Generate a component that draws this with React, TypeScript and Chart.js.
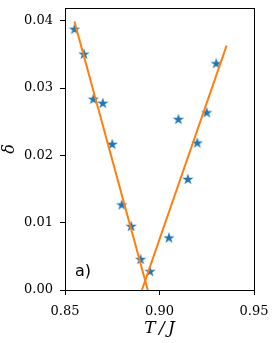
import React, { useEffect, useRef } from "react";
import { Chart, registerables } from "chart.js";

Chart.register(...registerables);

const temperatures = [0.855, 0.86, 0.865, 0.87, 0.875, 0.88, 0.885, 0.89, 0.895, 0.905, 0.91, 0.915, 0.92, 0.925, 0.93];
const deltas = [0.0388, 0.0351, 0.0284, 0.0278, 0.0217, 0.0127, 0.0095, 0.0046, 0.0028, 0.0078, 0.0254, 0.0165, 0.0219, 0.0264, 0.0337];

const leftFitT = [0.855, 0.8938];
const leftFitD = [0.0399, 0.0];
const rightFitT = [0.8907, 0.9355];
const rightFitD = [0.0, 0.0363];

const xTicks = [0.85, 0.9, 0.95];
const yTicks = [0.0, 0.01, 0.02, 0.03, 0.04];

const panelLabel = "a)";
const xTitle = "T\u2009/\u2009J";
const yTitle = "δ";

function makeStar(size: number, color: string): HTMLCanvasElement {
  const c = document.createElement("canvas");
  c.width = size;
  c.height = size;
  const ctx = c.getContext("2d")!;
  const cx = size / 2;
  const cy = size / 2 + size * 0.04;
  const R = size / 2;
  const r = R * 0.382;
  ctx.beginPath();
  for (let i = 0; i < 10; i++) {
    const rad = i % 2 === 0 ? R : r;
    const a = -Math.PI / 2 + (i * Math.PI) / 5;
    const x = cx + rad * Math.cos(a);
    const y = cy + rad * Math.sin(a);
    if (i === 0) ctx.moveTo(x, y);
    else ctx.lineTo(x, y);
  }
  ctx.closePath();
  ctx.fillStyle = color;
  ctx.fill();
  return c;
}

export default function App() {
  const ref = useRef<HTMLCanvasElement>(null);
  useEffect(() => {
    if (!ref.current) return;
    const star = makeStar(12, "#1f77b4");
    const framePlugin = {
      id: "frame",
      afterDatasetsDraw(chart: any) {
        const { ctx, chartArea } = chart;
        ctx.save();
        ctx.strokeStyle = "#000";
        ctx.lineWidth = 1;
        ctx.strokeRect(
          Math.round(chartArea.left) + 0.5,
          Math.round(chartArea.top) + 0.5,
          Math.round(chartArea.right - chartArea.left),
          Math.round(chartArea.bottom - chartArea.top)
        );
        ctx.fillStyle = "#000";
        ctx.font = "16px 'DejaVu Sans'";
        ctx.textBaseline = "alphabetic";
        ctx.textAlign = "left";
        ctx.fillText(panelLabel, chartArea.left + 10, chartArea.bottom - 14);
        ctx.restore();
      },
    };
    const chart = new Chart(ref.current, {
      type: "scatter",
      data: {
        datasets: [
          {
            type: "line",
            data: leftFitT.map((t, i) => ({ x: t, y: leftFitD[i] })),
            borderColor: "#ff7f0e",
            borderWidth: 2,
            pointRadius: 0,
            fill: false,
            order: 0,
          },
          {
            type: "line",
            data: rightFitT.map((t, i) => ({ x: t, y: rightFitD[i] })),
            borderColor: "#ff7f0e",
            borderWidth: 2,
            pointRadius: 0,
            fill: false,
            order: 0,
          },
          {
            type: "scatter",
            data: temperatures.map((t, i) => ({ x: t, y: deltas[i] })),
            pointStyle: star as any,
            pointRadius: 6,
            backgroundColor: "#1f77b4",
            order: 1,
          },
        ],
      },
      options: {
        responsive: false,
        animation: false,
        layout: { padding: { left: 0, right: 18, top: 8, bottom: 0 } },
        plugins: { legend: { display: false }, tooltip: { enabled: false } },
        scales: {
          x: {
            type: "linear",
            min: 0.85,
            max: 0.95,
            afterBuildTicks: (s: any) => {
              s.ticks = xTicks.map((v) => ({ value: v }));
            },
            afterFit: (s: any) => {
              s.height = 53;
              s.paddingLeft = 0;
              s.paddingRight = 0;
            },
            grid: { drawOnChartArea: false, drawTicks: true, tickLength: 5, tickColor: "#000", color: "#000" },
            border: { display: true, color: "#000" },
            ticks: {
              color: "#000",
              font: { family: "'DejaVu Serif', serif", size: 13 },
              padding: 9,
              maxRotation: 0,
              callback: (v: any) => Number(v).toFixed(2),
            },
            title: {
              display: true,
              text: xTitle,
              color: "#000",
              font: { family: "'DejaVu Serif', serif", size: 17, style: "italic" },
              padding: { top: 4, bottom: 4 },
            },
          },
          y: {
            type: "linear",
            min: 0,
            max: 0.0419,
            afterBuildTicks: (s: any) => {
              s.ticks = yTicks.map((v) => ({ value: v }));
            },
            afterFit: (s: any) => {
              s.width = 65;
              s.paddingTop = 0;
              s.paddingBottom = 0;
            },
            grid: { drawOnChartArea: false, drawTicks: true, tickLength: 5, tickColor: "#000", color: "#000" },
            border: { display: true, color: "#000" },
            ticks: {
              color: "#000",
              font: { family: "'DejaVu Serif', serif", size: 13 },
              padding: 7,
              callback: (v: any) => Number(v).toFixed(2),
            },
            title: {
              display: true,
              text: yTitle,
              color: "#000",
              font: { family: "'DejaVu Serif', serif", size: 16, style: "italic" },
              padding: { top: 0, bottom: 0 },
            },
          },
        },
      },
      plugins: [framePlugin],
    });
    return () => chart.destroy();
  }, []);
  return (
    <div style={{ position: "fixed", left: 0, top: 0, width: 272, height: 343, background: "#fff" }}>
      <canvas ref={ref} width={272} height={343} style={{ display: "block" }} />
    </div>
  );
}
